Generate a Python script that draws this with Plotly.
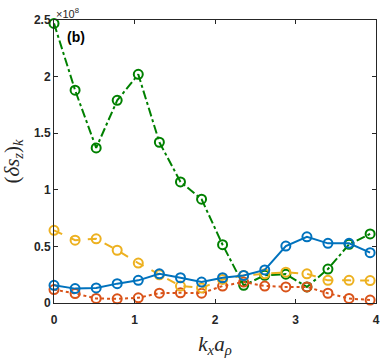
import plotly.graph_objects as go

# k_x a_rho sample points (n*pi/12)
kx = [0.0, 0.262, 0.524, 0.785, 1.047, 1.309, 1.571, 1.833,
      2.094, 2.356, 2.618, 2.880, 3.142, 3.403, 3.665, 3.927]

# (delta s_z)_k values
blue = [0.156e8, 0.127e8, 0.133e8, 0.171e8, 0.200e8, 0.258e8, 0.223e8, 0.185e8,
        0.223e8, 0.243e8, 0.292e8, 0.503e8, 0.585e8, 0.527e8, 0.527e8, 0.445e8]
orange = [0.642e8, 0.555e8, 0.567e8, 0.466e8, 0.353e8, 0.249e8, 0.150e8, 0.133e8,
          0.208e8, 0.243e8, 0.258e8, 0.272e8, 0.258e8, 0.200e8, 0.200e8, 0.198e8]
red = [0.119e8, 0.084e8, 0.040e8, 0.037e8, 0.046e8, 0.087e8, 0.090e8, 0.087e8,
       0.150e8, 0.185e8, 0.150e8, 0.142e8, 0.142e8, 0.086e8, 0.040e8, 0.026e8]
green = [2.47e8, 1.88e8, 1.37e8, 1.79e8, 2.02e8, 1.42e8, 1.07e8, 0.917e8,
         0.515e8, 0.156e8, 0.245e8, 0.255e8, 0.142e8, 0.300e8, 0.518e8, 0.610e8]

yticks = [0, 0.5e8, 1e8, 1.5e8, 2e8, 2.5e8]
yticktext = ["0", "0.5", "1", "1.5", "2", "2.5"]
xticks = [0, 1, 2, 3, 4]

fig = go.Figure()

series = [
    (green, "#008000", "dashdot"),
    (red, "#D95319", "dot"),
    (orange, "#EDB120", "dash"),
    (blue, "#0072BD", "solid"),
]
for ys, col, dash in series:
    fig.add_trace(go.Scatter(
        x=kx, y=ys, mode="lines+markers",
        line=dict(color=col, width=2, dash=dash),
        marker=dict(symbol="circle-open", size=9, color=col, line=dict(width=2, color=col)),
        cliponaxis=False, showlegend=False,
    ))

axis_common = dict(
    showgrid=False, zeroline=False, showline=True, linecolor="#262626", linewidth=1,
    mirror="ticks", ticks="inside", ticklen=4, tickcolor="#262626",
    tickfont=dict(family="Liberation Sans", size=12, color="#262626", weight="bold"),
)

fig.update_layout(
    width=384, height=358,
    margin=dict(l=54, r=4, t=20, b=50),
    paper_bgcolor="white", plot_bgcolor="white",
    xaxis=dict(range=[0, 4], tickvals=xticks, ticktext=[str(v) for v in xticks],
               ticklabelstandoff=6,
               title=dict(text="<i>k</i><sub><i>x</i></sub><i>a</i><sub><i>ρ</i></sub>",
                          font=dict(family="Liberation Serif", size=21, color="#262626"),
                          standoff=12),
               **axis_common),
    yaxis=dict(range=[0, 2.5e8], tickvals=yticks, ticktext=yticktext,
               title=dict(text="(<i>δs</i><sub><i>z</i></sub>)<sub><i>k</i></sub>",
                          font=dict(family="Liberation Serif", size=21, color="#262626"),
                          standoff=12),
               **axis_common),
    annotations=[
        dict(x=0, y=1, xref="paper", yref="paper", xanchor="left", yanchor="bottom",
             text="×10<sup>8</sup>", showarrow=False, yshift=-2,
             font=dict(family="Liberation Sans", size=11, color="#262626")),
        dict(x=0.035, y=0.94, xref="paper", yref="paper", xanchor="left", yanchor="middle",
             text="<b>(b)</b>", showarrow=False,
             font=dict(family="Liberation Sans", size=14, color="#000000")),
    ],
)

fig.write_html("out.html", config={"displayModeBar": False},
               post_script="document.body.style.margin='0';")
